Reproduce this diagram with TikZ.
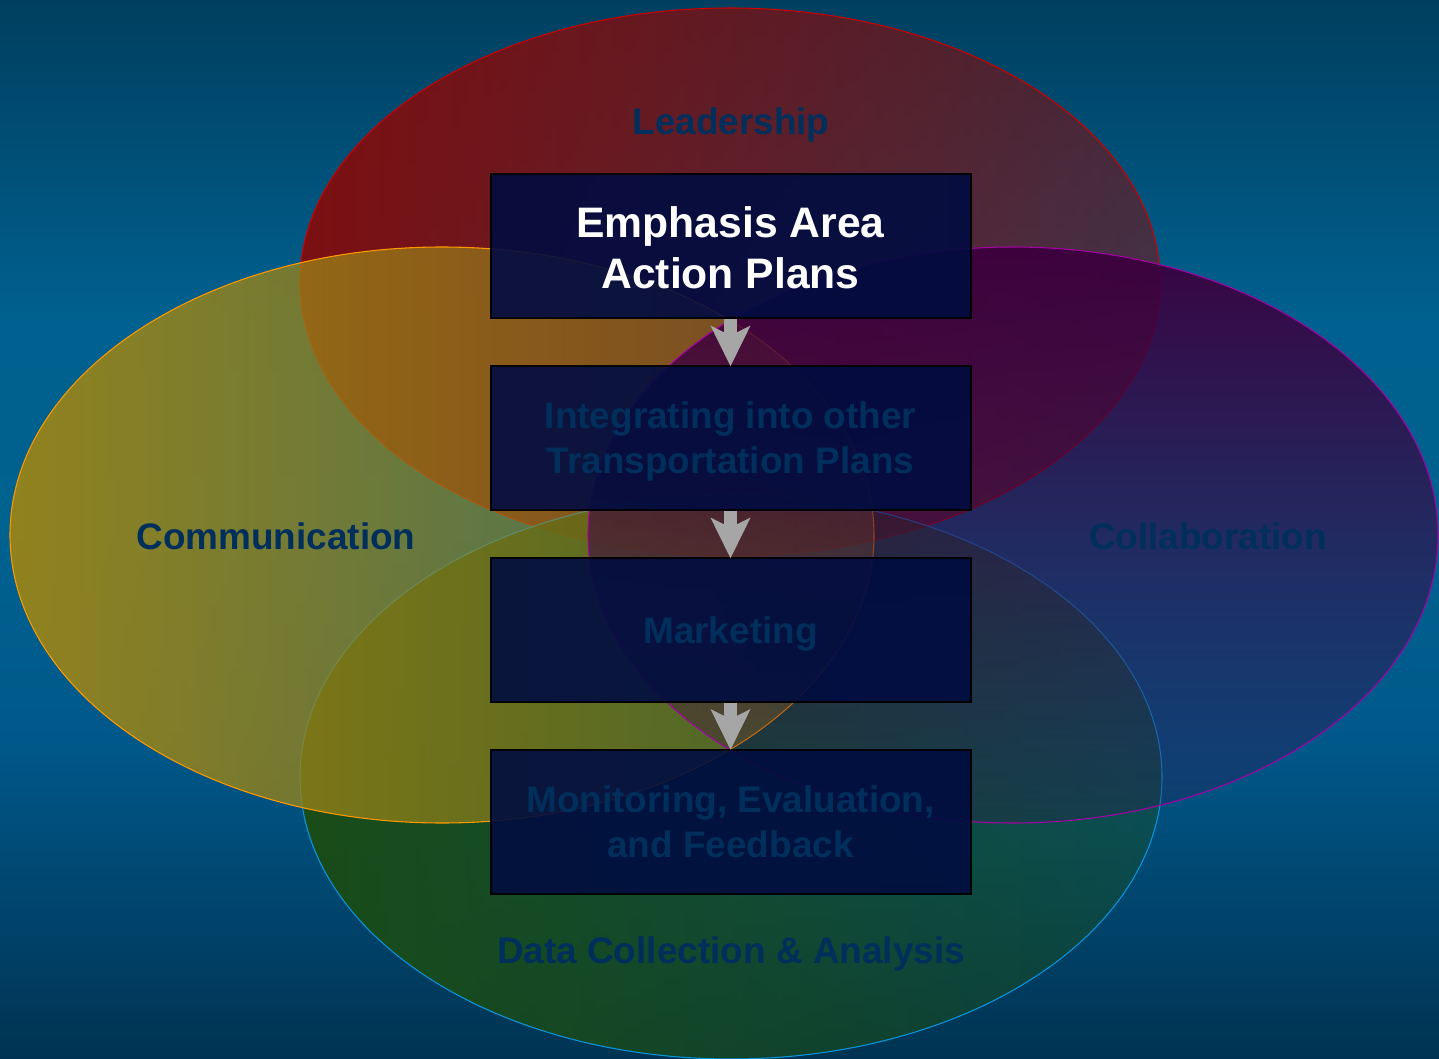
\documentclass[tikz,border=0pt]{standalone}
\usepackage{fontspec}
\setmainfont{Liberation Sans}
\usepackage{xcolor}
\usetikzlibrary{arrows.meta,fadings,positioning}

\definecolor{bgtop}{HTML}{003F5F}
\definecolor{bgupper}{HTML}{00608F}
\definecolor{bgmid}{HTML}{00628F}
\definecolor{bglower}{HTML}{00588A}
\definecolor{bgbot}{HTML}{003352}
\definecolor{leadred}{HTML}{7C1012}
\definecolor{commyel}{HTML}{9A8418}
\definecolor{datagrn}{HTML}{1A4C18}
\definecolor{collpur}{HTML}{3C003E}
\definecolor{boxblue}{HTML}{000C40}
\definecolor{dimtext}{HTML}{002F5C}

% the picture fits 25bp..75bp of this
\pgfdeclareverticalshading{bgshade}{100bp}{color(0bp)=(bgbot); color(25bp)=(bgbot); color(40bp)=(bglower); color(50bp)=(bgmid); color(60bp)=(bgupper); color(75bp)=(bgtop); color(100bp)=(bgtop)}
\tikzfading[name=fadeleft, left color=transparent!0, right color=transparent!60]
\tikzfading[name=fadeleftred, left color=transparent!0, right color=transparent!45]
\tikzfading[name=fadedown, top color=transparent!0, bottom color=transparent!80]

\newcommand{\lowered}[2]{\raisebox{-#1}[\height][\depth]{#2}}

\tikzset{
	planbox/.style={draw=black, line width=1.5pt, fill=boxblue, fill opacity=0.9, text opacity=1,
		minimum width=360pt, minimum height=108pt, inner sep=0pt, align=center,
		font=\bfseries\fontsize{27.7}{33.7}\selectfont, text=dimtext},
	arealabel/.style={font=\bfseries\fontsize{27.7}{33.7}\selectfont, text=dimtext},
	flowarrow/.style={draw=gray!70, line width=10pt, -{Stealth[length=30pt, width=29pt, inset=7pt]}, shorten >=-1pt}
}

\begin{document}
\begin{tikzpicture}[x=0.75pt,y=0.75pt,yscale=-1]
	\useasboundingbox (0,0) rectangle (1439,1059);
	\begin{scope}[yscale=-1]
		\shade[shading=bgshade] (0,0) rectangle (1439,-1059);
	\end{scope}
	
	% the four areas
	\fill[leadred, path fading=fadeleftred] (730,282) ellipse [x radius=430, y radius=274];
	\draw[red!80!black, line width=0.8pt] (730,282) ellipse [x radius=430, y radius=274];
	\fill[datagrn, path fading=fadeleft] (731,777) ellipse [x radius=431, y radius=282];
	\draw[cyan!80!blue, line width=0.8pt] (731,777) ellipse [x radius=431, y radius=282];
	\fill[commyel, fill opacity=0.95, path fading=fadeleft] (442,535) ellipse [x radius=432, y radius=288];
	\draw[orange!80!yellow, line width=0.8pt] (442,535) ellipse [x radius=432, y radius=288];
	\fill[collpur, fill opacity=0.95, path fading=fadedown] (1013,535) ellipse [x radius=425, y radius=288];
	\draw[violet!70!magenta, line width=0.8pt] (1013,535) ellipse [x radius=425, y radius=288];
	
	\node[arealabel] (lead) at (731,125) {Leadership};
	\node[arealabel] (comm) at (276,536) {Communication};
	\node[arealabel] (collab) at (1208,536) {Collaboration};
	\node[arealabel] (data) at (731,954) {Data Collection \& Analysis};
	
	% the plan steps
	\node[planbox, text=white, font=\bfseries\fontsize{32}{38}\selectfont] (eap) at (730.5,246) {\lowered{1.5pt}{\parbox{300pt}{\centering Emphasis Area\\Action Plans}}};
	\node[planbox] (itp) at (730.5,438) {\lowered{2.3pt}{\parbox{340pt}{\centering Integrating into other\\Transportation Plans}}};
	\node[planbox] (mkt) at (730.5,630) {\lowered{3pt}{Marketing}};
	\node[planbox] (mef) at (730.5,821.5) {\parbox{340pt}{\centering Monitoring, Evaluation,\\and Feedback}};
	
	\draw[flowarrow] (eap) -- (itp);
	\draw[flowarrow] (itp) -- (mkt);
	\draw[flowarrow] (mkt) -- (mef);
	
\end{tikzpicture}
\end{document}
